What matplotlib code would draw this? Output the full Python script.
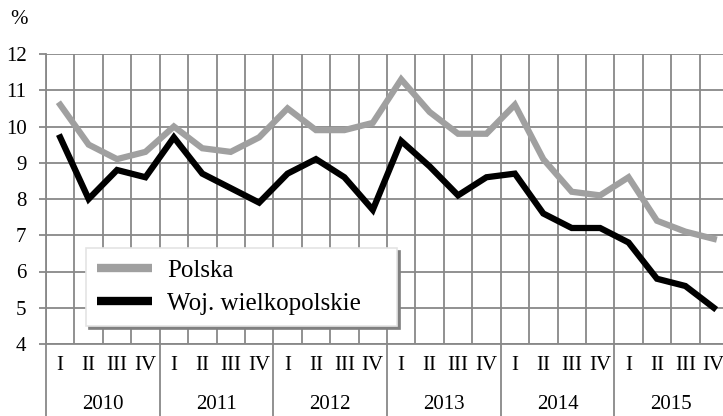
import numpy as np
import matplotlib
matplotlib.use("Agg")
import matplotlib.pyplot as plt
from matplotlib.transforms import blended_transform_factory

plt.rcParams["font.family"] = ["Liberation Serif", "DejaVu Serif"]

years = ["2010", "2011", "2012", "2013", "2014", "2015"]
quarters = ["I", "II", "III", "IV"]
polska = [10.6, 9.5, 9.1, 9.3, 10.0, 9.4, 9.3, 9.7, 10.5, 9.9, 9.9, 10.1,
          11.3, 10.4, 9.8, 9.8, 10.6, 9.1, 8.2, 8.1, 8.6, 7.4, 7.1, 6.9]
wielkopolskie = [9.7, 8.0, 8.8, 8.6, 9.7, 8.7, 8.3, 7.9, 8.7, 9.1, 8.6, 7.7,
                 9.6, 8.9, 8.1, 8.6, 8.7, 7.6, 7.2, 7.2, 6.8, 5.8, 5.6, 5.0]

grid_col = "#888888"
W, H = 723, 416

fig = plt.figure(figsize=(W / 100, H / 100), dpi=100)
# chart is cut off on the right in the original
ax = fig.add_axes([46 / W, 1 - 344 / H, (728 - 46) / W, (344 - 54) / H])

x = np.arange(len(polska))
ax.plot(x, polska, color="#a0a0a0", lw=4.5, solid_joinstyle="miter", label="Polska", zorder=3)
ax.plot(x, wielkopolskie, color="black", lw=4.5, solid_joinstyle="miter",
        label="Woj. wielkopolskie", zorder=3)

ax.set_xlim(-0.5, len(x) - 0.5)
ax.set_ylim(4, 12)
ax.set_yticks(range(4, 13))
ax.tick_params(axis="y", length=5, width=1.3, color=grid_col, labelsize=15, pad=9)
ax.grid(axis="y", color=grid_col, lw=1.3)

ax.set_xticks(x)
ax.set_xticklabels(quarters * len(years), fontsize=15)
ax.tick_params(axis="x", length=0, pad=9)
ax.set_xticks(np.arange(-0.5, len(x), 1), minor=True)
ax.tick_params(axis="x", which="minor", length=0)
ax.grid(axis="x", which="minor", color=grid_col, lw=1.3)

for s in ["top", "right"]:
    ax.spines[s].set_visible(False)
for s in ["left", "bottom"]:
    ax.spines[s].set_color(grid_col)
    ax.spines[s].set_linewidth(1.3)

trans = blended_transform_factory(ax.transData, ax.transAxes)
for i, yr in enumerate(years):
    left = i * 4 - 0.5
    ax.plot([left, left], [0, -0.3], transform=trans, color=grid_col, lw=1.3, clip_on=False)
    ax.text(i * 4 + 1.5, -0.21, yr, transform=trans, ha="center", va="center", fontsize=15)
ax.plot([len(x) - 0.5] * 2, [0, -0.3], transform=trans, color=grid_col, lw=1.3, clip_on=False)

fig.text(10 / W, 1 - 20 / H, "%", fontsize=15, ha="left", va="center")

leg = ax.legend(loc="upper left", bbox_to_anchor=(86 / W, 1 - 328 / H, (397 - 86) / W, 80 / H),
                bbox_transform=fig.transFigure, mode="expand", borderaxespad=0,
                fontsize=18, handlelength=2.2, handletextpad=0.6, borderpad=0.45,
                labelspacing=0.42, fancybox=False, framealpha=1,
                shadow={"color": "#808080", "alpha": 1})
leg.get_frame().set_edgecolor("#e4e4e4")
leg.get_frame().set_linewidth(1.2)
for h in leg.get_lines():
    h.set_linewidth(6)
    h.set_solid_capstyle("butt")

fig.savefig("out.png", dpi=100)
